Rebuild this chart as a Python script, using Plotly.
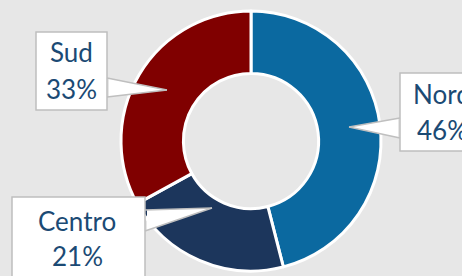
import plotly.graph_objects as go

# ---- data ----
regions = ["Nord", "Centro", "Sud"]
shares = [46, 21, 33]
colors = ["#0B69A0", "#1C365C", "#800000"]

W, H = 462, 276
BG = "#E7E7E7"
TXT = "#1B4A74"
BORDER = "#BFBFBF"
FONT = "Lato"
FS = 26

def px(x):
    return x / W

def py(y):
    return 1 - y / H

fig = go.Figure(go.Pie(
    labels=regions, values=shares, sort=False, direction="clockwise",
    rotation=0, hole=0.52, textinfo="none", hoverinfo="label+percent",
    marker=dict(colors=colors, line=dict(color="white", width=3)),
    domain=dict(x=[px(121), px(381)], y=[py(271), py(11)]),
    showlegend=False,
))

# callout layout (pixel positions of boxes, pointer bases and tips)
callouts = {
    "Sud":    dict(box=(36, 32, 107, 110), base=((107, 78), (107, 97)), tip=(167, 90),
                   name_c=(71, 52), pct_c=(71, 89)),
    "Nord":   dict(box=(400, 73, 520, 151), base=((400, 118), (400, 138)), tip=(349, 127),
                   name_c=(442, 94), pct_c=(442, 130)),
    "Centro": dict(box=(12, 197, 145, 300), base=((145, 210), (145, 231)), tip=(212, 208),
                   name_c=(77, 221), pct_c=(77, 256)),
}

shapes = []
annotations = []
for name, val in zip(regions, shares):
    c = callouts[name]
    x0, y0, x1, y1 = c["box"]
    shapes.append(dict(type="rect", xref="paper", yref="paper",
                       x0=px(x0), x1=px(x1), y0=py(y1), y1=py(y0),
                       fillcolor="white", line=dict(color=BORDER, width=1.5), layer="above"))
    (bx1, by1), (bx2, by2) = c["base"]
    tx, ty = c["tip"]
    inset = 2 if bx1 > tx else -2
    path = (f"M {px(bx1 - inset)},{py(by1)} L {px(bx1)},{py(by1)} L {px(tx)},{py(ty)} "
            f"L {px(bx2)},{py(by2)} L {px(bx2 - inset)},{py(by2)} Z")
    shapes.append(dict(type="path", xref="paper", yref="paper", path=path,
                       fillcolor="white", line=dict(color="rgba(0,0,0,0)", width=0), layer="above"))
    for p1, p2 in (((bx1, by1), (tx, ty)), ((bx2, by2), (tx, ty))):
        shapes.append(dict(type="line", xref="paper", yref="paper",
                           x0=px(p1[0]), y0=py(p1[1]), x1=px(p2[0]), y1=py(p2[1]),
                           line=dict(color=BORDER, width=1.5), layer="above"))
    for txt, (cx, cy) in ((name, c["name_c"]), (f"{val}%", c["pct_c"])):
        annotations.append(dict(text=txt, x=px(cx), y=py(cy), xref="paper", yref="paper",
                                xanchor="center", yanchor="middle", showarrow=False,
                                font=dict(family=FONT, size=FS, color=TXT)))

fig.update_layout(
    width=W, height=H, margin=dict(l=0, r=0, t=0, b=0),
    paper_bgcolor=BG, plot_bgcolor=BG,
    shapes=shapes, annotations=annotations,
)

fig.write_html("out.html", config={"displayModeBar": False},
               post_script="document.body.style.margin='0';document.body.style.overflow='hidden';")
